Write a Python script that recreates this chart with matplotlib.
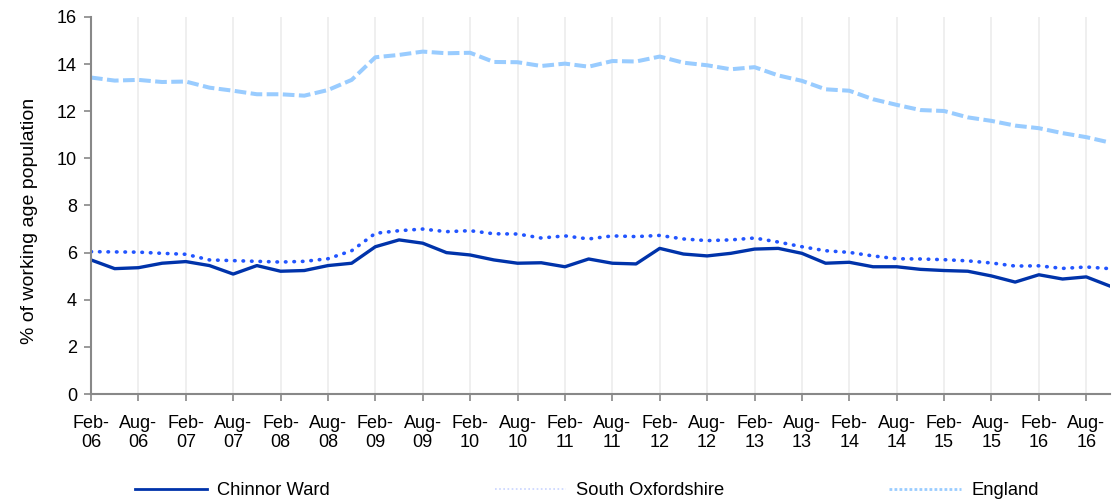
import numpy as np
import matplotlib.pyplot as plt
from matplotlib.lines import Line2D

plt.rcParams['font.family'] = ['Liberation Sans', 'DejaVu Sans']

# quarterly values, Feb-06 .. Nov-16
chinnor = [5.69, 5.32, 5.36, 5.55, 5.62, 5.45, 5.09, 5.45, 5.21, 5.24,
           5.45, 5.55, 6.25, 6.54, 6.40, 6.00, 5.90, 5.69, 5.55, 5.57,
           5.40, 5.73, 5.55, 5.52, 6.18, 5.94, 5.86, 5.97, 6.15, 6.18,
           5.97, 5.55, 5.59, 5.40, 5.40, 5.29, 5.24, 5.21, 5.01, 4.75,
           5.06, 4.88, 4.97, 4.58]
south_oxon = [6.04, 6.03, 6.02, 5.97, 5.93, 5.69, 5.66, 5.63, 5.60, 5.63,
              5.74, 6.08, 6.82, 6.93, 7.00, 6.89, 6.93, 6.80, 6.79, 6.62,
              6.71, 6.58, 6.71, 6.68, 6.73, 6.58, 6.51, 6.54, 6.62, 6.45,
              6.25, 6.08, 6.01, 5.86, 5.74, 5.73, 5.70, 5.65, 5.56, 5.43,
              5.44, 5.33, 5.39, 5.32]
england = [13.43, 13.30, 13.33, 13.24, 13.26, 13.00, 12.87, 12.72, 12.72, 12.66,
           12.90, 13.33, 14.29, 14.39, 14.53, 14.46, 14.48, 14.09, 14.08, 13.92,
           14.02, 13.89, 14.13, 14.11, 14.32, 14.06, 13.95, 13.78, 13.87, 13.52,
           13.29, 12.93, 12.87, 12.51, 12.27, 12.05, 12.01, 11.74, 11.59, 11.39,
           11.28, 11.07, 10.90, 10.67]

tick_labels = []
for yr in range(6, 17):
    tick_labels += [f"Feb-\n{yr:02d}", f"Aug-\n{yr:02d}"]

x = np.arange(len(chinnor))

fig = plt.figure(figsize=(11.18, 4.99), dpi=100)
ax = fig.add_axes([0.0814, 0.2104, 0.9114, 0.7556])

ax.plot(x, chinnor, color='#0033aa', lw=2.4)
ax.plot(x, south_oxon, color='#2255ff', lw=2.6, ls=(0, (0.15, 2.2)), dash_capstyle='round')
ax.plot(x, england, color='#99ccff', lw=2.9, ls=(0, (2.9, 1.1)))

ax.set_xlim(0, len(x) - 1)
ax.set_ylim(0, 16)
ax.set_yticks(np.arange(0, 17, 2))
ax.set_xticks(np.arange(0, len(x), 2))
ax.set_xticklabels(tick_labels)
ax.tick_params(axis='both', colors='#888888', labelcolor='black', labelsize=13,
               length=5, width=1.2, direction='out')
ax.tick_params(axis='x', pad=10)
ax.tick_params(axis='y', pad=5)
ax.grid(axis='x', color='#ececec', lw=1.2)
ax.set_axisbelow(True)
for s in ['top', 'right']:
    ax.spines[s].set_visible(False)
for s in ['left', 'bottom']:
    ax.spines[s].set_color('#888888')
    ax.spines[s].set_linewidth(1.5)
ax.set_ylabel('% of working age population', fontsize=14)
ax.yaxis.set_label_coords(-0.052, 0.46)

handles = [
    Line2D([], [], color='#0033aa', lw=2.0),
    Line2D([], [], color='#c8d4ff', lw=1.2, ls=(0, (1, 1.5))),
    Line2D([], [], color='#99ccff', lw=2.0, ls=(0, (1, 0.8))),
]
fig.legend(handles, ['Chinnor Ward', 'South Oxfordshire', 'England'],
           loc='lower center', bbox_to_anchor=(0.525, -0.033), ncol=3, frameon=False,
           fontsize=13.2, handlelength=3.9, columnspacing=9.0, handletextpad=0.55)

fig.savefig('out.png', dpi=100)
